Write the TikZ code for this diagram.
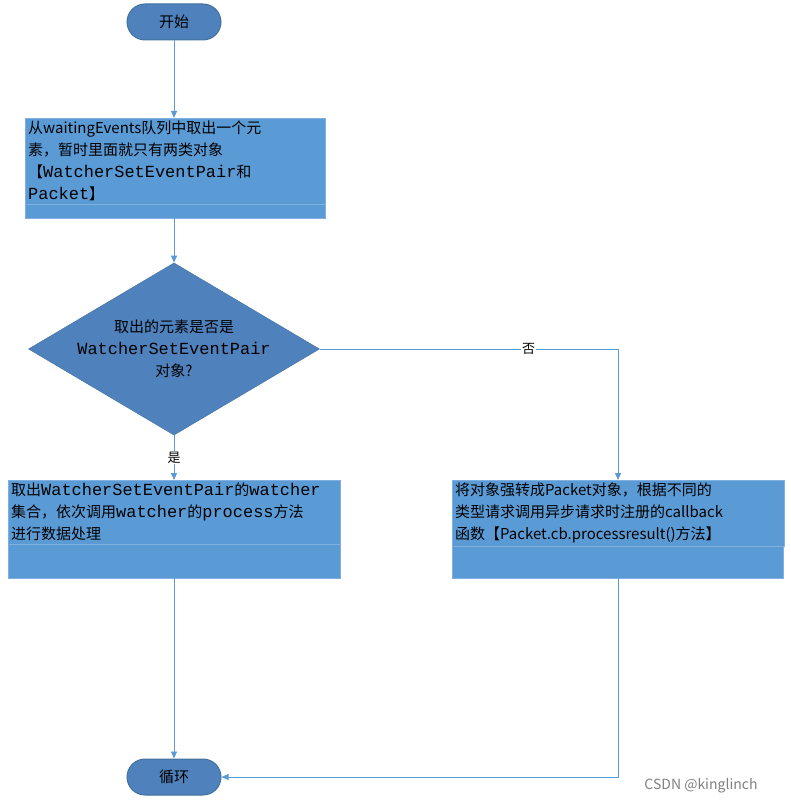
\documentclass[tikz,border=0pt]{standalone}
\usepackage{fontspec}
\setmainfont{Noto Sans CJK SC}
\newfontfamily\mono[Scale=1.13]{Liberation Mono}
\usetikzlibrary{shapes.geometric,arrows.meta}
\definecolor{boxfill}{HTML}{5B9BD5}
\definecolor{boxline}{HTML}{7FB0E0}
\definecolor{darkfill}{HTML}{4F81BD}
\definecolor{darkline}{HTML}{41719C}
\definecolor{conn}{HTML}{5B9BD5}
\newcommand{\mt}[1]{{\mono #1}}
\begin{document}
\begin{tikzpicture}[x=1pt,y=-1pt,
  every node/.style={font=\fontsize{15}{22}\selectfont},
  term/.style={draw=darkline,fill=darkfill,rounded corners=18pt,minimum width=94pt,minimum height=36pt,line width=1pt},
  box/.style={draw=boxline,fill=boxfill,anchor=north west,align=left,inner sep=3pt},
  dec/.style={draw=darkline,fill=darkfill,diamond,aspect=1.69,minimum width=244pt,minimum height=144pt,align=center,inner sep=0pt},
  arr/.style={draw=conn,line width=0.8pt,-{Triangle[width=6pt,length=7pt]}}]
\useasboundingbox (0,0) rectangle (790,805);
\node[term] (start) at (174,22) {开始};
\draw[boxline,fill=boxfill] (25,118) rectangle (325,218);
\node[box,text width=294pt] (b1) at (25,118) {从waitingEvents队列中取出一个元\\素，暂时里面就只有两类对象\\【\mt{WatcherSetEventPair}和\\\mt{Packet}】};
\coordinate (b1b) at (174,218);
\coordinate (b1t) at (174,118);
\node[dec] (d) at (174,349) {取出的元素是否是\\\mt{WatcherSetEventPair}\\对象?};
\draw[boxline,fill=boxfill] (8,480) rectangle (340,578);
\node[box,text width=326pt] (b2) at (8,480) {取出\mt{WatcherSetEventPair}的\mt{watcher}\\集合，依次调用\mt{watcher}的\mt{process}方法\\进行数据处理};
\draw[boxline,fill=boxfill] (452,480) rectangle (783,578);
\node[box,text width=326pt] (b3) at (452,480) {将对象强转成Packet对象，根据不同的\\类型请求调用异步请求时注册的callback\\函数【Packet.cb.processresult()方法】};
\node[term] (end) at (174,777) {循环};
\coordinate (b2t) at (174,480);
\coordinate (b2b) at (174,578);
\coordinate (b3t) at (618,480);
\coordinate (b3b) at (618,578);
\coordinate (c1) at (618,349);
\coordinate (c2) at (618,777);
\draw[arr] (start) -- (b1t);
\draw[arr] (b1b) -- (d.north);
\draw[arr] (d.south) -- node[fill=white,inner sep=1pt,font=\fontsize{13}{13}\selectfont,pos=0.5]{是} (b2t);
\draw[arr] (d.east) -- node[fill=white,inner sep=1pt,font=\fontsize{13}{13}\selectfont,pos=0.7]{否} (c1) -- (b3t);
\draw[arr] (b2b) -- (end);
\draw[arr] (b3b) -- (c2) -- (end.east);
\node[text=gray,font=\fontsize{14}{14}\selectfont] (wm) at (701,786) {CSDN @kinglinch};
\end{tikzpicture}
\end{document}
